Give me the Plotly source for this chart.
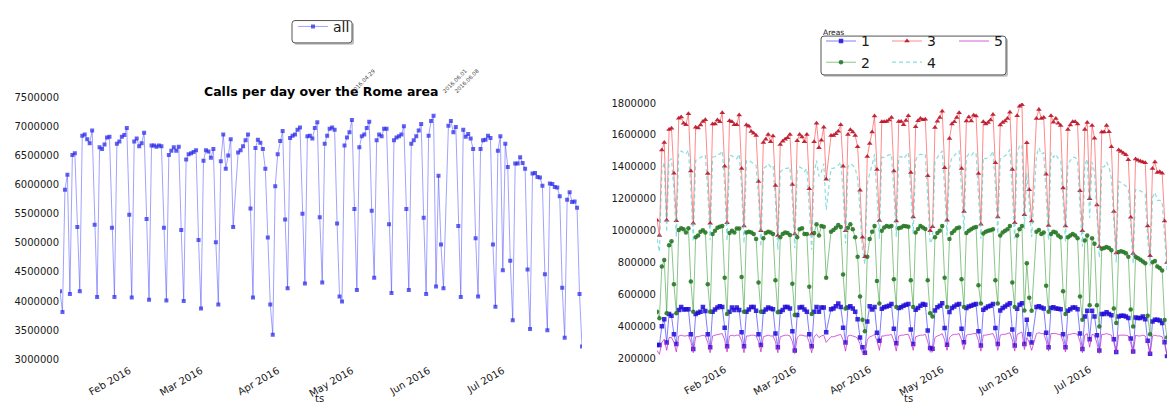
import plotly.graph_objects as go
import pandas as pd

W, H = 1167, 407

# ---------------- DATA ----------------
# one value per day, Sat 2016-01-02 .. Sun 2016-07-31 (None = day missing in the data)
dates = pd.date_range("2016-01-02", "2016-07-31", freq="D")

# Left panel: calls per day over the whole Rome area (millions)
all_calls_m = [
    4.17, 3.81,
    5.91, 6.17, 4.12, 6.51, 6.54, 5.27, 4.17,
    6.84, 6.86, 6.78, 6.71, 6.93, 5.31, 4.07,
    6.64, 6.61, 6.69, 6.81, 6.82, 5.26, 4.07,
    6.70, 6.74, 6.82, 6.85, 6.97, 5.48, 4.06,
    6.74, 6.79, 6.66, 6.71, 6.89, 5.41, 4.02,
    6.67, 6.67, 6.65, 6.67, 6.66, 5.26, 4.01,
    6.51, 6.58, 6.64, 6.58, 6.65, 5.22, 4.00,
    6.43, 6.52, 6.54, 6.56, 6.59, 5.05, 3.87,
    6.41, 6.59, 6.57, 6.46, 6.61, 5.01, 3.94,
    6.40, 6.86, 6.27, 6.50, 6.78, 5.27, None,
    6.55, 6.59, 6.66, 6.76, 6.86, 5.59, 4.06,
    6.63, 6.77, 6.72, 6.61, 6.27, 5.09, 3.94,
    3.42, 5.97, 6.52, 6.75, 6.92, 5.40, 4.22,
    6.80, 6.84, 6.86, 6.94, 6.98, 5.50, 4.30,
    6.83, 6.84, 6.79, 6.97, 7.07, 5.44, 4.32,
    6.70, 6.84, 6.96, 6.98, 6.94, 5.33, 4.08,
    3.99, 6.67, 6.81, 6.90, 7.11, 5.58, 4.19,
    6.64, 6.83, 6.86, 6.97, 7.08, 5.55, 4.40,
    6.76, 6.86, 6.83, 6.96, 6.96, 5.32, 4.14,
    6.76, 6.81, 6.83, 6.86, 7.00, 5.58, 4.19,
    6.70, 6.76, 6.83, 6.93, 7.04, 5.43, 4.12,
    6.84, 7.09, 7.18, 4.25, 6.15, 4.97, 4.22,
    None, 7.01, 7.09, 6.90, 6.99, 5.29, 4.07,
    6.94, 6.82, 6.87, 6.79, 6.61, 5.08, 4.08,
    6.61, 6.76, 6.77, 6.84, 6.80, 4.97, 3.90,
    6.58, 6.83, 4.53, 6.70, 6.30, 4.69, 3.67,
    6.36, 6.36, 6.47, 6.37, 6.27, 4.54, 3.52,
    6.19, 6.20, 6.13, 6.12, 5.98, 4.46, 3.50,
    6.02, 6.01, 5.96, 5.95, 5.80, 4.23, 3.37,
    5.74, 5.87, 5.70, 5.71, 5.60, 4.12, 3.22,
]

# Right panel: calls per day for each area (thousands)
area1_k = [
    283, 283,
    401, 445, 299, 478, 466, 350, 289,
    502, 522, 506, 508, 508, 350, 259,
    478, 486, 492, 522, 496, 350, 269,
    492, 506, 518, 526, 522, 391, 275,
    492, 518, 502, 518, 502, 364, 275,
    492, 506, 522, 522, 498, 350, 283,
    492, 506, 518, 512, 508, 356, 269,
    492, 502, 522, 522, 512, 370, 249,
    472, 518, 522, 506, 492, 350, 275,
    492, 522, 492, 518, 518, 364, None,
    508, 512, 526, 543, 522, 391, 299,
    518, 526, 512, 492, 445, 330, 269,
    234, 431, 526, 506, 522, 360, 310,
    510, 520, 525, 530, 540, 385, 295,
    515, 520, 530, 535, 540, 380, 290,
    505, 515, 530, 540, 535, 375, 265,
    260, 500, 520, 530, 545, 390, 285,
    490, 515, 525, 535, 540, 385, 300,
    515, 525, 530, 535, 540, 370, 280,
    505, 515, 525, 530, 540, 390, 290,
    500, 515, 525, 535, 545, 380, 280,
    510, 535, 545, 290, 441, 350, 299,
    None, 522, 526, 518, 512, 360, 269,
    515, 520, 512, 510, 508, 350, 269,
    498, 508, 518, 518, 508, 356, 259,
    462, 498, 320, 498, 462, 344, 249,
    478, 478, 488, 478, 470, 320, 239,
    462, 466, 466, 462, 452, 324, 243,
    455, 452, 452, 462, 445, 310, 228,
    431, 441, 441, 437, 421, 300, 212,
]

area2_k = [
    492, 451,
    776, 816, 482, 908, 934, 664, 482,
    1005, 1015, 1009, 989, 1015, 681, 492,
    958, 969, 993, 1003, 989, 664, 492,
    979, 999, 1019, 1025, 1029, 705, 478,
    985, 999, 989, 1013, 1013, 709, 492,
    989, 993, 989, 979, 948, 675, 492,
    952, 985, 993, 989, 979, 689, 488,
    958, 979, 989, 985, 973, 668, 472,
    958, 1009, 1015, 979, 979, 648, 478,
    985, 1040, 969, 1029, 1025, 705, None,
    993, 1005, 1019, 1035, 1023, 725, 512,
    1019, 1040, 1009, 958, 837, 587, 441,
    370, 837, 948, 993, 1029, 685, 543,
    1000, 1020, 1030, 1025, 1030, 695, 522,
    1015, 1020, 1030, 1028, 1025, 689, 522,
    989, 1010, 1030, 1020, 1010, 689, 482,
    462, 958, 985, 1000, 1030, 705, 522,
    948, 985, 1000, 1015, 1020, 695, 522,
    985, 999, 1009, 1019, 1023, 658, 543,
    983, 993, 999, 1003, 1009, 689, 543,
    969, 989, 999, 1009, 1030, 675, 522,
    969, 1009, 1030, 500, 796, 579, 498,
    None, 993, 1005, 979, 989, 654, 492,
    979, 993, 989, 969, 958, 620, 478,
    958, 969, 979, 969, 952, 587, 441,
    939, 969, 533, 952, 918, 533, 400,
    887, 891, 898, 891, 877, 512, 421,
    867, 871, 867, 858, 837, 506, 400,
    837, 827, 817, 806, 796, 466, 350,
    802, 810, 776, 766, 750, 440, 330,
]

area3_k = [
    1066, 969,
    1506, 1552, 1066, 1634, 1642, 1360, 1062,
    1705, 1713, 1674, 1664, 1733, 1374, 1046,
    1648, 1644, 1662, 1684, 1695, 1358, 1046,
    1668, 1668, 1693, 1682, 1739, 1404, 1050,
    1689, 1682, 1664, 1664, 1725, 1390, 1030,
    1662, 1654, 1622, 1611, 1597, 1309, 999,
    1553, 1573, 1603, 1557, 1593, 1283, 969,
    1540, 1561, 1573, 1583, 1603, 1289, 979,
    1563, 1603, 1587, 1557, 1603, 1263, 979,
    1557, 1674, 1520, 1567, 1648, 1323, None,
    1597, 1597, 1607, 1624, 1664, 1404, 999,
    1603, 1632, 1618, 1597, 1526, 1253, 958,
    837, 1465, 1547, 1618, 1719, 1384, 1064,
    1682, 1682, 1684, 1694, 1709, 1374, 1060,
    1684, 1684, 1664, 1690, 1720, 1364, 1086,
    1652, 1689, 1703, 1695, 1699, 1344, 999,
    1025, 1646, 1686, 1709, 1749, 1394, 1066,
    1577, 1668, 1682, 1709, 1739, 1390, 1120,
    1688, 1713, 1688, 1723, 1719, 1358, 1040,
    1682, 1668, 1678, 1694, 1729, 1425, 1086,
    1662, 1678, 1688, 1703, 1743, 1384, 1050,
    1720, 1780, 1790, 1100, 1551, 1257, 1060,
    None, 1703, 1760, 1703, 1710, 1354, 1033,
    1720, 1680, 1703, 1673, 1660, 1267, 1030,
    1634, 1663, 1682, 1682, 1668, 1250, 1000,
    1634, 1678, 1200, 1660, 1580, 1161, 900,
    1618, 1618, 1660, 1620, 1526, 1120, 860,
    1506, 1496, 1486, 1476, 1445, 1084, 857,
    1449, 1441, 1435, 1431, 1425, 1030, 843,
    1390, 1430, 1364, 1370, 1360, 1060, 800,
]

area4_k = [
    948, 867,
    1370, 1430, 990, 1440, 1450, 1250, 960,
    1490, 1500, 1490, 1480, 1505, 1260, 930,
    1440, 1450, 1460, 1470, 1475, 1250, 940,
    1460, 1465, 1480, 1480, 1500, 1280, 935,
    1470, 1470, 1455, 1450, 1480, 1270, 920,
    1440, 1440, 1430, 1420, 1410, 1210, 900,
    1390, 1400, 1420, 1400, 1410, 1190, 880,
    1370, 1380, 1390, 1390, 1400, 1190, 890,
    1370, 1400, 1390, 1370, 1390, 1160, 880,
    1360, 1440, 1340, 1370, 1420, 1130, None,
    1390, 1390, 1400, 1410, 1430, 1250, 920,
    1400, 1420, 1410, 1390, 1330, 1120, 880,
    790, 1290, 1360, 1410, 1480, 1250, 950,
    1460, 1460, 1470, 1475, 1480, 1240, 960,
    1460, 1465, 1450, 1470, 1490, 1230, 980,
    1440, 1470, 1480, 1475, 1480, 1220, 920,
    950, 1430, 1460, 1480, 1500, 1260, 970,
    1390, 1460, 1470, 1490, 1500, 1260, 1000,
    1460, 1480, 1470, 1490, 1490, 1230, 950,
    1460, 1450, 1460, 1470, 1500, 1280, 980,
    1450, 1460, 1470, 1480, 1510, 1250, 950,
    1490, 1530, 1540, 1010, 1360, 1140, 960,
    None, 1470, 1520, 1480, 1490, 1220, 940,
    1490, 1460, 1480, 1450, 1440, 1160, 930,
    1420, 1440, 1460, 1460, 1440, 1140, 900,
    1410, 1450, 1080, 1430, 1370, 1060, 830,
    1400, 1400, 1430, 1400, 1330, 1030, 800,
    1310, 1300, 1290, 1280, 1260, 990, 790,
    1260, 1250, 1250, 1240, 1230, 950, 780,
    1210, 1240, 1190, 1190, 1180, 960, 750,
]

area5_k = [
    250, 225,
    300, 320, 250, 330, 330, 300, 240,
    340, 345, 340, 340, 345, 305, 235,
    335, 335, 340, 345, 340, 300, 235,
    340, 345, 350, 350, 355, 315, 240,
    340, 345, 340, 345, 345, 310, 235,
    340, 340, 345, 345, 340, 305, 240,
    335, 340, 345, 340, 340, 305, 235,
    335, 340, 345, 345, 340, 305, 230,
    330, 345, 345, 340, 340, 300, 235,
    335, 350, 330, 340, 345, 300, None,
    335, 335, 340, 345, 350, 315, 245,
    340, 345, 340, 335, 325, 290, 235,
    220, 315, 335, 340, 350, 310, 250,
    340, 340, 345, 345, 350, 310, 245,
    340, 345, 345, 350, 350, 310, 250,
    335, 340, 345, 345, 350, 305, 240,
    240, 330, 340, 345, 355, 315, 250,
    330, 345, 350, 350, 355, 315, 255,
    345, 350, 350, 355, 355, 310, 245,
    345, 345, 350, 350, 355, 320, 250,
    345, 350, 350, 355, 360, 315, 245,
    350, 360, 365, 255, 330, 300, 250,
    None, 355, 360, 355, 355, 310, 245,
    355, 355, 355, 350, 350, 305, 240,
    350, 350, 355, 355, 350, 305, 235,
    345, 355, 270, 350, 345, 295, 230,
    350, 350, 355, 350, 345, 300, 235,
    345, 345, 345, 345, 340, 295, 230,
    345, 340, 340, 345, 340, 295, 225,
    340, 345, 340, 340, 335, 290, 220,
]

area_names = ["1", "2", "3", "4", "5"]
area_values_k = [area1_k, area2_k, area3_k, area4_k, area5_k]

left_title = "Calls per day over the Rome area"
marked_days = ["2016.04.29", "2016.06.01", "2016.06.08"]
marked_pos = ["2016-04-27", "2016-06-03", "2016-06-07 20:00"]

# ---------------- HELPERS ----------------
def px_x(x):
    return x / W


def px_y(y):
    return 1 - y / H


def scale(vals, f):
    return [None if v is None else v * f for v in vals]


def rounded_rect(x0, y0, x1, y1, r=3):
    X = px_x
    Y = px_y
    return (f"M{X(x0 + r)},{Y(y0)} L{X(x1 - r)},{Y(y0)} Q{X(x1)},{Y(y0)} {X(x1)},{Y(y0 + r)} "
            f"L{X(x1)},{Y(y1 - r)} Q{X(x1)},{Y(y1)} {X(x1 - r)},{Y(y1)} "
            f"L{X(x0 + r)},{Y(y1)} Q{X(x0)},{Y(y1)} {X(x0)},{Y(y1 - r)} "
            f"L{X(x0)},{Y(y0 + r)} Q{X(x0)},{Y(y0)} {X(x0 + r)},{Y(y0)} Z")


FONT = "DejaVu Sans"
TXT = "#1a1a1a"

fig = go.Figure()

# left panel
fig.add_trace(go.Scatter(
    x=dates, y=scale(all_calls_m, 1e6), name="all", mode="lines+markers",
    connectgaps=True, xaxis="x", yaxis="y", legend="legend",
    line=dict(color="rgba(70,70,255,0.5)", width=1),
    marker=dict(symbol="square", size=4, color="rgba(45,45,235,0.75)", line=dict(width=0)),
))

styles = {
    "1": dict(mode="lines+markers", line=dict(color="rgba(40,40,255,0.6)", width=1),
              marker=dict(symbol="square", size=4.5, color="rgba(30,10,215,0.85)", line=dict(width=0))),
    "2": dict(mode="lines+markers", line=dict(color="rgba(40,150,40,0.55)", width=1),
              marker=dict(symbol="circle", size=4.5, color="rgba(40,120,40,0.9)", line=dict(width=0))),
    "3": dict(mode="lines+markers", line=dict(color="rgba(255,40,40,0.55)", width=1),
              marker=dict(symbol="triangle-up", size=5, color="rgba(185,20,40,0.9)", line=dict(width=0))),
    "4": dict(mode="lines", line=dict(color="rgba(60,200,200,0.6)", width=1.2, dash="4px,3px")),
    "5": dict(mode="lines", line=dict(color="rgba(200,40,200,0.75)", width=1)),
}
legend_of = {"1": "legend2", "2": "legend2", "3": "legend3", "4": "legend3", "5": "legend4"}

for name, vals in zip(area_names, area_values_k):
    fig.add_trace(go.Scatter(
        x=dates, y=scale(vals, 1e3), name=name, connectgaps=True,
        xaxis="x2", yaxis="y2", legend=legend_of[name], **styles[name]))

x_common = dict(
    type="date", range=["2016-01-02", "2016-07-31"], tick0="2016-02-01", dtick="M1",
    tickformat="%b %Y", tickangle=-30, showgrid=False, zeroline=False, showline=False,
    ticks="", tickfont=dict(family=FONT, size=10, color=TXT),
    ticklabelshift=-5, ticklabelstandoff=3,
)
y_common = dict(
    showgrid=False, zeroline=False, showline=False, ticks="", tickformat="d",
    tickfont=dict(family=FONT, size=10, color=TXT),
)

legend_common = dict(
    bgcolor="rgba(0,0,0,0)", borderwidth=0, orientation="v", itemwidth=30,
    font=dict(family=FONT, size=14, color=TXT), xanchor="left", yanchor="top",
    tracegroupgap=0,
)

fig.update_layout(
    width=W, height=H, margin=dict(l=0, r=0, t=0, b=0),
    paper_bgcolor="white", plot_bgcolor="white", showlegend=True,
    xaxis=dict(domain=[px_x(60), px_x(582)], anchor="y", **x_common),
    yaxis=dict(domain=[px_y(364), px_y(94)], anchor="x", range=[3e6, 7.5e6], dtick=500000, **y_common),
    xaxis2=dict(domain=[px_x(657), 1.0], anchor="y2", **x_common),
    yaxis2=dict(domain=[px_y(363), px_y(100)], anchor="x2", range=[2e5, 1.8e6], dtick=200000, **y_common),
    legend=dict(x=px_x(293), y=px_y(5), **legend_common),
    legend2=dict(x=px_x(821), y=px_y(20), **legend_common),
    legend3=dict(x=px_x(887), y=px_y(20), **legend_common),
    legend4=dict(x=px_x(954), y=px_y(20), **legend_common),
)

# legend frames (rounded, with a soft shadow like the original)
shapes = []
for (a, b, c, d) in [(292, 15, 352, 38), (821, 31, 1006, 71)]:
    shapes.append(dict(type="path", xref="paper", yref="paper", path=rounded_rect(a + 2, b + 2, c + 2, d + 2),
                       fillcolor="rgba(0,0,0,0.25)", line=dict(width=0), layer="above"))
    shapes.append(dict(type="path", xref="paper", yref="paper", path=rounded_rect(a, b, c, d),
                       fillcolor="white", line=dict(color="#555555", width=1), layer="above"))
fig.update_layout(shapes=shapes)

ann = []
ann.append(dict(text=f"<b>{left_title}</b>", xref="paper", yref="paper", x=px_x(321), y=px_y(88),
                xanchor="center", yanchor="middle", showarrow=False,
                font=dict(family=FONT, size=12.5, color="#000")))
ann.append(dict(text="Areas", xref="paper", yref="paper", x=px_x(821), y=px_y(27),
                xanchor="left", yanchor="middle", showarrow=False,
                font=dict(family=FONT, size=7.5, color=TXT)))
for cx in (319, 908):
    ann.append(dict(text="ts", xref="paper", yref="paper", x=px_x(cx), y=px_y(397),
                    xanchor="center", yanchor="top", showarrow=False,
                    font=dict(family=FONT, size=10, color=TXT)))
for txt, pos in zip(marked_days, marked_pos):
    ann.append(dict(text=txt, xref="x", yref="y", x=pos, y=7.5e6, textangle=-45,
                    xanchor="left", yanchor="bottom", showarrow=False,
                    font=dict(family=FONT, size=5.5, color="#444")))
fig.update_layout(annotations=ann)

fig.write_html("out.html", config={"displayModeBar": False},
               post_script="document.body.style.margin='0px';")
